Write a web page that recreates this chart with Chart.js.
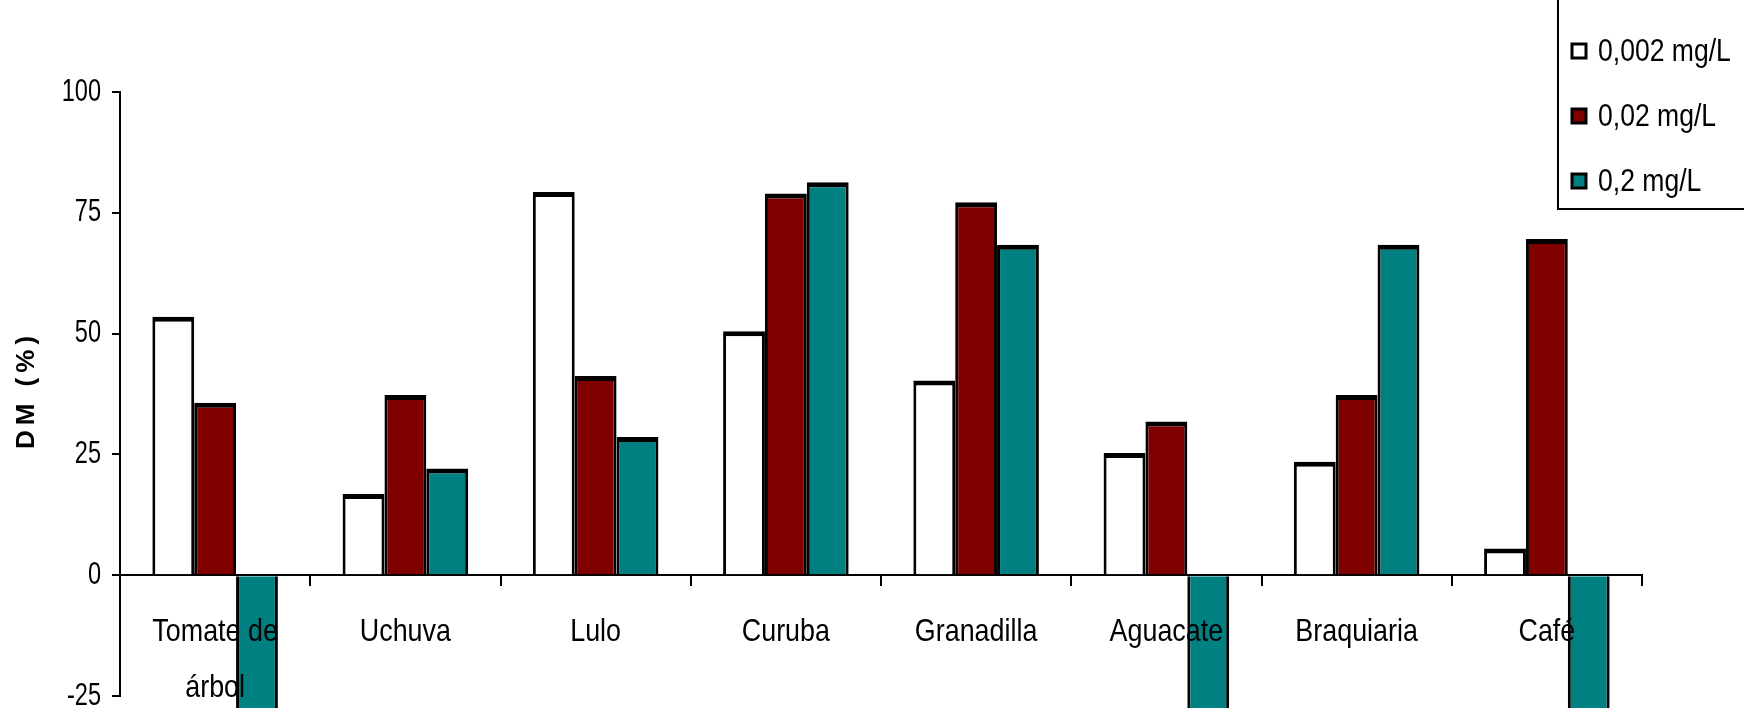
<!DOCTYPE html>
<html>
<head>
<meta charset="utf-8">
<script src="https://cdn.jsdelivr.net/npm/chart.js@4.4.1/dist/chart.umd.min.js"></script>
<style>
  html, body { margin: 0; padding: 0; background: #fff; }
  #wrap { width: 1744px; height: 708px; position: relative; }
</style>
</head>
<body>
<div id="wrap"><canvas id="dmChart"></canvas></div>
<script>
// data
const categories = [['Tomate de', 'árbol'], 'Uchuva', 'Lulo', 'Curuba', 'Granadilla', 'Aguacate', 'Braquiaria', 'Café'];
const seriesLabels = ['0,002 mg/L', '0,02 mg/L', '0,2 mg/L'];
const dose002 = [53.5, 16.8, 79.3, 50.5, 40.3, 25.3, 23.5, 5.5];
const dose02 = [35.7, 37.3, 41.2, 79.0, 77.2, 31.8, 37.3, 69.6];
const dose2 = [-30, 22.1, 28.6, 81.3, 68.4, -30, 68.4, -30];
const yTicks = [-25, 0, 25, 50, 75, 100];
const yTitle = 'DM (%)';

const FONT = "'Liberation Sans', Arial, sans-serif";
const colors = ['#ffffff', '#800000', '#008080'];

// the original uses a condensed face, so squeeze text horizontally
function narrowText(ctx, text, x, y, align, squeeze) {
  ctx.save();
  ctx.translate(x, y);
  ctx.scale(squeeze, 1);
  ctx.textAlign = align;
  ctx.fillText(text, 0, 0);
  ctx.restore();
}

// axis labels, title and legend drawn on top of the bars (as in the original)
const excelText = {
  id: 'excelText',
  afterDraw(chart) {
    const ctx = chart.ctx;
    const xs = chart.scales.x;
    const ys = chart.scales.y;
    ctx.save();
    ctx.fillStyle = '#000';
    ctx.textBaseline = 'middle';

    // y tick labels
    ctx.font = '31px ' + FONT;
    ys.ticks.forEach((t) => {
      narrowText(ctx, String(t.value), ys.right - 19, ys.getPixelForValue(t.value), 'right', 0.76);
    });

    // x category labels, hanging below the zero line
    ctx.font = '32px ' + FONT;
    const zeroY = ys.getPixelForValue(0);
    chart.data.labels.forEach((lab, i) => {
      const lines = Array.isArray(lab) ? lab : [lab];
      lines.forEach((line, j) => {
        narrowText(ctx, line, xs.getPixelForTick(i), zeroY + 57 + j * 56, 'center', 0.84);
      });
    });

    // rotated y title
    ctx.save();
    ctx.font = 'bold 26px ' + FONT;
    ctx.letterSpacing = '5px';
    ctx.translate(27, (ys.top + ys.bottom) / 2 - 4);
    ctx.rotate(-Math.PI / 2);
    ctx.textAlign = 'center';
    ctx.fillText(yTitle, 0, 0);
    ctx.restore();

    // legend box
    ctx.strokeStyle = '#000';
    ctx.lineWidth = 2;
    ctx.strokeRect(1558, -4, 200, 213);
    ctx.font = '32px ' + FONT;
    chart.data.datasets.forEach((ds, i) => {
      const y = 51 + i * 65;
      ctx.fillStyle = ds.backgroundColor;
      ctx.fillRect(1572, y - 7, 14, 14);
      ctx.lineWidth = 3;
      ctx.strokeRect(1572, y - 7, 14, 14);
      ctx.fillStyle = '#000';
      narrowText(ctx, ds.label, 1598, y + 1, 'left', 0.83);
    });
    ctx.restore();
  }
};

const ctx = document.getElementById('dmChart').getContext('2d');
new Chart(ctx, {
  type: 'bar',
  data: {
    labels: categories,
    datasets: [dose002, dose02, dose2].map((values, i) => ({
      label: seriesLabels[i],
      data: values,
      backgroundColor: colors[i],
      borderColor: '#000',
      borderWidth: { top: 5, left: 3, right: 3, bottom: 3 },
      borderSkipped: 'start',
      categoryPercentage: 0.66,
      barPercentage: 1.0,
      clip: false,
    })),
  },
  options: {
    responsive: true,
    maintainAspectRatio: false,
    animation: false,
    layout: { padding: { top: 92, bottom: 12, left: 0, right: 102 } },
    plugins: {
      legend: { display: false },
      tooltip: { enabled: false },
    },
    scales: {
      x: {
        type: 'category',
        position: { y: 0 },
        offset: true,
        grid: {
          offset: true,
          drawOnChartArea: false,
          drawTicks: true,
          tickLength: 10,
          color: '#000',
          lineWidth: 2,
        },
        border: { display: true, color: '#000', width: 2 },
        ticks: { display: false, autoSkip: false },
      },
      y: {
        min: -25,
        max: 100,
        afterBuildTicks: (axis) => { axis.ticks = yTicks.map((v) => ({ value: v })); },
        afterFit: (axis) => {
          axis.width = 120;
          axis.paddingTop = 0;
          axis.paddingBottom = 0;
        },
        grid: {
          drawOnChartArea: false,
          drawTicks: true,
          tickLength: 8,
          color: '#000',
          lineWidth: 2,
        },
        border: { display: true, color: '#000', width: 2 },
        ticks: { display: false },
      },
    },
  },
  plugins: [excelText],
});
</script>
</body>
</html>
